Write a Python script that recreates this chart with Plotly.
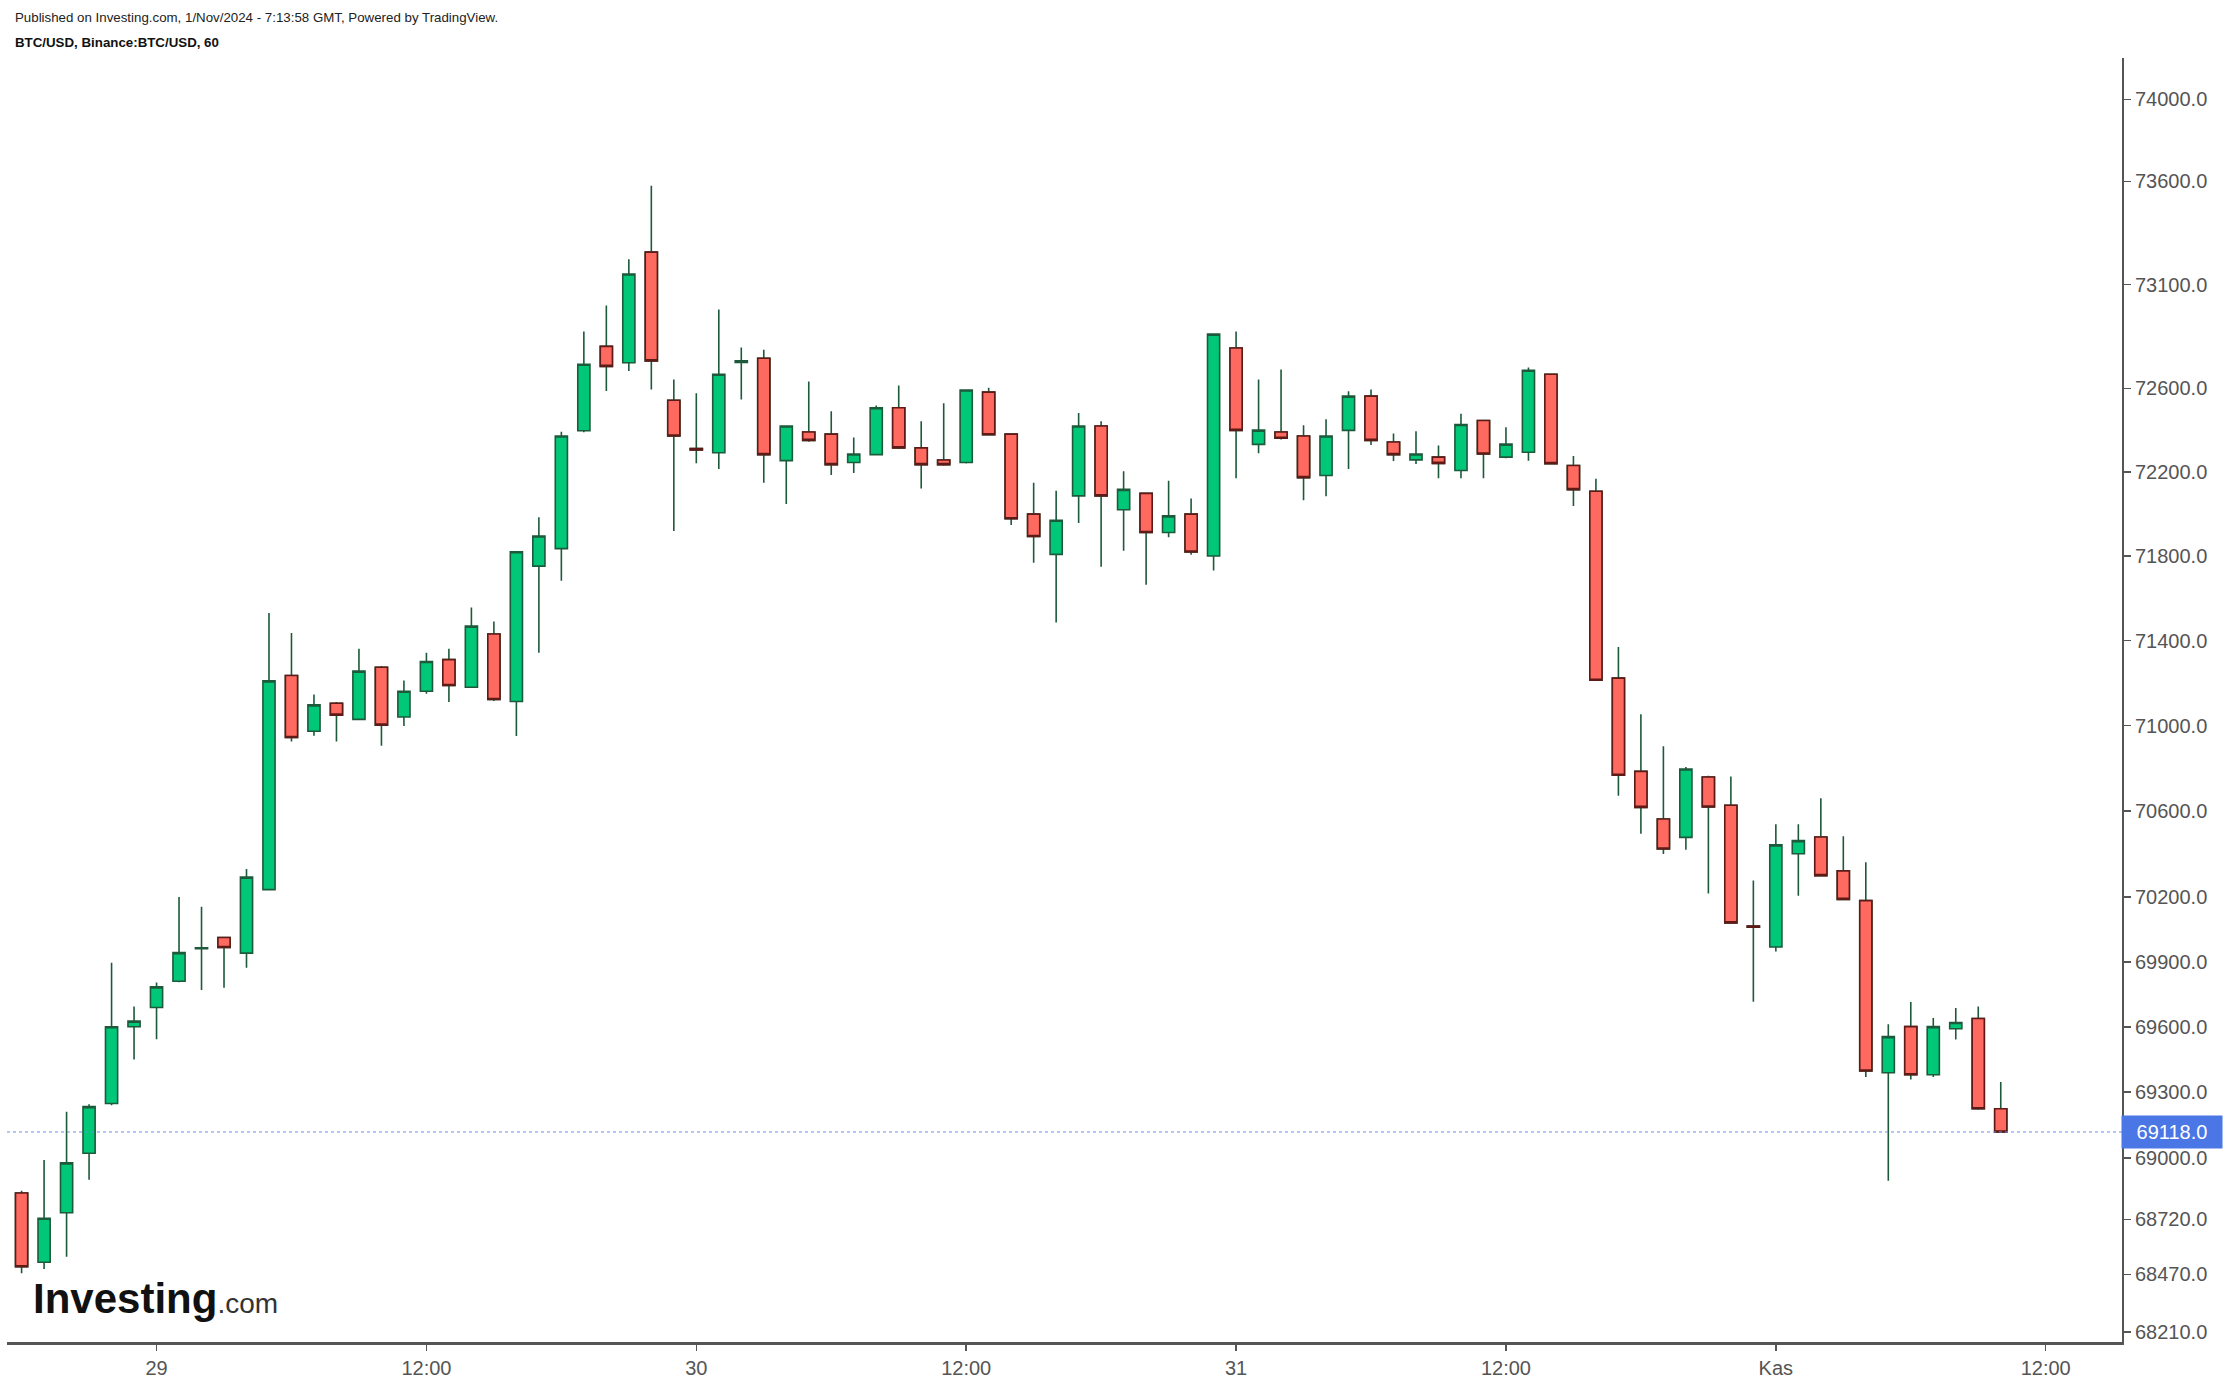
import numpy as np
import pandas as pd
import plotly.graph_objects as go

# ---- data (BTC/USD hourly, local time GMT+3) ----
start_time = "2024-10-28 18:00"
opens = [68840, 68525, 68750, 69021, 69248, 69600, 69689, 69810, 69960, 70012,
         69940, 70234, 71235, 70973, 71105, 71029, 71274, 71040, 71161, 71310,
         71180, 71431, 71113, 71752, 71835, 72397, 72802, 72723, 73257, 72543,
         72312, 72292, 72725, 72745, 72254, 72391, 72381, 72245, 72283, 72507,
         72315, 72257, 72245, 72582, 72381, 71999, 71808, 72086, 72420, 72020,
         72098, 71912, 71999, 71800, 72794, 72332, 72391, 72372, 72183, 72399,
         72563, 72343, 72258, 72271, 72207, 72446, 72271, 72294, 72668, 72231,
         72108, 71223, 70785, 70563, 70477, 70759, 70627, 70065, 69968, 70401,
         70479, 70321, 70183, 69389, 69601, 69380, 69591, 69638, 69224]
highs = [68850, 68990, 69210, 69245, 69895, 69693, 69804, 70200, 70155, 70015,
         70330, 71530, 71436, 71146, 71110, 71361, 71280, 71212, 71342, 71361,
         71556, 71490, 71822, 71984, 72392, 72874, 72999, 73222, 73579, 72643,
         72577, 72980, 72796, 72786, 72420, 72633, 72491, 72365, 72518, 72614,
         72442, 72529, 72595, 72603, 72385, 72149, 72111, 72482, 72442, 72203,
         72100, 72158, 72073, 72861, 72874, 72643, 72691, 72423, 72452, 72586,
         72595, 72384, 72395, 72326, 72478, 72450, 72414, 72700, 72670, 72276,
         72168, 71370, 71053, 70903, 70806, 70765, 70761, 70277, 70538, 70538,
         70660, 70482, 70361, 69612, 69714, 69641, 69687, 69693, 69347]
lows = [68475, 68495, 68550, 68900, 69240, 69450, 69543, 69805, 69770, 69780,
        69872, 70230, 70925, 70952, 70925, 71025, 70905, 70998, 71149, 71110,
        71176, 71115, 70951, 71342, 71683, 72390, 72588, 72683, 72595, 71919,
        72242, 72214, 72547, 72149, 72047, 72345, 72186, 72195, 72280, 72310,
        72121, 72230, 72240, 72375, 71948, 71768, 71485, 71957, 71749, 71825,
        71664, 71889, 71806, 71731, 72170, 72290, 72355, 72065, 72084, 72214,
        72329, 72252, 72238, 72170, 72170, 72170, 72265, 72254, 72238, 72038,
        71210, 70671, 70494, 70400, 70419, 70216, 70080, 69715, 69947, 70206,
        70295, 70185, 69369, 68895, 69358, 69369, 69542, 69220, 69118]
closes = [68505, 68725, 68977, 69234, 69600, 69626, 69784, 69942, 69965, 69966,
          70292, 71210, 70944, 71097, 71049, 71256, 71002, 71161, 71301, 71188,
          71468, 71122, 71820, 71895, 72372, 72716, 72706, 73151, 72732, 72372,
          72305, 72668, 72732, 72283, 72420, 72351, 72235, 72286, 72507, 72315,
          72235, 72235, 72592, 72378, 71977, 71893, 71970, 72420, 72086, 72117,
          71912, 71991, 71819, 72861, 72399, 72400, 72361, 72173, 72372, 72563,
          72351, 72283, 72286, 72241, 72427, 72286, 72333, 72687, 72240, 72116,
          71213, 70767, 70617, 70423, 70796, 70619, 70080, 70060, 70442, 70462,
          70299, 70189, 69397, 69555, 69380, 69601, 69620, 69224, 69118]

tick_values = [74000, 73600, 73100, 72600, 72200, 71800, 71400, 71000, 70600,
               70200, 69900, 69600, 69300, 69000, 68720, 68470, 68210]
tick_labels = [f"{v:.1f}" for v in tick_values]
x_tick_times = ["2024-10-29 00:00", "2024-10-29 12:00", "2024-10-30 00:00",
                "2024-10-30 12:00", "2024-10-31 00:00", "2024-10-31 12:00",
                "2024-11-01 00:00", "2024-11-01 12:00"]
x_tick_labels = ["29", "12:00", "30", "12:00", "31", "12:00", "Kas", "12:00"]

title_line1 = "Published on Investing.com, 1/Nov/2024 - 7:13:58 GMT, Powered by TradingView."
title_line2 = "BTC/USD, Binance:BTC/USD, 60"

# ---- styling ----
GREEN = "#00c878"
RED = "#ff6a60"
GREEN_LINE = "#1d5a3b"
RED_LINE = "#5e1a17"
AXIS = "#555555"
FONT = "Liberation Sans, Arial, sans-serif"

times = pd.date_range(start_time, periods=len(opens), freq="h")
x_range = ["2024-10-28 17:21:04", "2024-11-01 15:23:28"]
y_range = [np.log10(68165), np.log10(74203)]

fig = go.Figure()

last_price = closes[-1]
fig.add_trace(go.Scatter(
    x=x_range, y=[last_price, last_price], mode="lines",
    line=dict(color="#6b8de6", width=1, dash="dot"),
    hoverinfo="skip", showlegend=False))

# all candles: wicks dark green
fig.add_trace(go.Candlestick(
    x=times, open=opens, high=highs, low=lows, close=closes,
    increasing=dict(fillcolor=GREEN, line=dict(color=GREEN_LINE, width=1.6)),
    decreasing=dict(fillcolor=RED, line=dict(color=GREEN_LINE, width=1.6)),
    whiskerwidth=0, showlegend=False, hoverinfo="skip"))

# red bodies with dark red outline on top
dec_idx = [i for i in range(len(opens)) if closes[i] < opens[i]]
fig.add_trace(go.Candlestick(
    x=[times[i] for i in dec_idx],
    open=[opens[i] for i in dec_idx],
    high=[opens[i] for i in dec_idx],
    low=[closes[i] for i in dec_idx],
    close=[closes[i] for i in dec_idx],
    increasing=dict(fillcolor=GREEN, line=dict(color=GREEN_LINE, width=1.6)),
    decreasing=dict(fillcolor=RED, line=dict(color=RED_LINE, width=1.6)),
    whiskerwidth=0, showlegend=False, hoverinfo="skip"))

fig.update_layout(
    width=2230, height=1386,
    margin=dict(l=7, r=108, t=58, b=42),
    paper_bgcolor="white", plot_bgcolor="white",
    font=dict(family=FONT, size=20, color=AXIS),
    boxgap=0.46, boxgroupgap=0,
    hovermode=False,
    showlegend=False,
)
fig.update_xaxes(
    type="date", range=x_range, rangeslider=dict(visible=False),
    tickvals=x_tick_times, ticktext=x_tick_labels,
    showgrid=False, zeroline=False,
    showline=True, linecolor=AXIS, linewidth=2.5,
    ticks="outside", ticklen=6, tickwidth=1.5, tickcolor=AXIS,
    tickfont=dict(size=20, color=AXIS, family=FONT),
)
fig.update_yaxes(
    type="log", range=y_range, side="right",
    tickvals=tick_values, ticktext=tick_labels,
    showgrid=False, zeroline=False,
    showline=True, linecolor=AXIS, linewidth=2,
    ticks="outside", ticklen=7, tickwidth=1.5, tickcolor=AXIS,
    tickfont=dict(size=20, color=AXIS, family=FONT),
)

annotations = [
    dict(text=title_line1, xref="paper", yref="paper", x=0, y=1,
         xanchor="left", yanchor="middle", xshift=6, yshift=41, showarrow=False,
         font=dict(family=FONT, size=13.3, color="#222222")),
    dict(text="<b>" + title_line2 + "</b>", xref="paper", yref="paper", x=0, y=1,
         xanchor="left", yanchor="middle", xshift=6, yshift=16, showarrow=False,
         font=dict(family=FONT, size=13.3, color="#111111")),
    dict(text=f"{last_price:.1f}", xref="paper", yref="y", x=1, y=np.log10(last_price),
         xanchor="left", yanchor="middle", showarrow=False, xshift=-1,
         bgcolor="#4a76e6", width=92, height=24, borderpad=4, align="center",
         font=dict(family=FONT, size=20, color="white")),
    dict(text="<b>Investing</b><span style='font-size:28px;color:#333333'>.com</span>",
         xref="paper", yref="paper", x=0, y=0, xanchor="left", yanchor="middle",
         xshift=24, yshift=44, showarrow=False,
         font=dict(family=FONT, size=42, color="#111111")),
]
fig.update_layout(annotations=annotations)

fig.write_html("out.html",
               config={"displayModeBar": False, "staticPlot": True},
               post_script="document.body.style.margin='0';document.body.style.padding='0';")
